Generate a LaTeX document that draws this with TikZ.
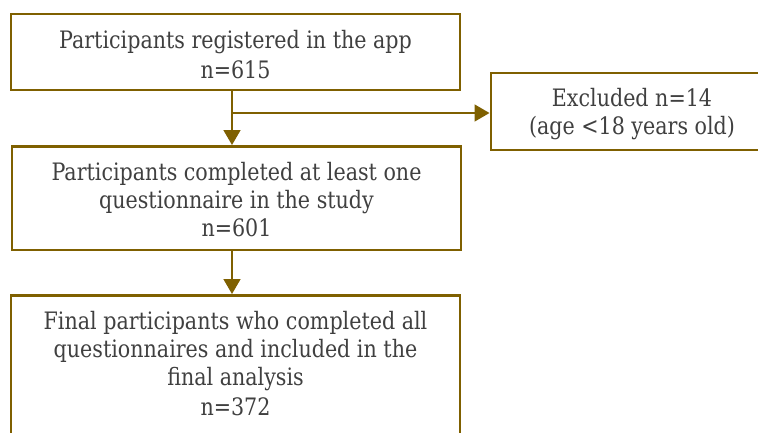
\documentclass[tikz,border=0pt]{standalone}
\usepackage{fontspec}
\setmainfont{DejaVu Serif}[FakeStretch=0.86]
\usetikzlibrary{arrows.meta}
\definecolor{boxline}{HTML}{7F6000}
\definecolor{txt}{HTML}{404040}
\begin{document}
\begin{tikzpicture}[x=1pt,y=-1pt,
  box/.style={draw=boxline, line width=2.8pt, fill=white, inner sep=0pt},
  lbl/.style={text=txt, align=center, inner sep=0pt, font=\fontsize{24}{28}\selectfont},
  conn/.style={draw=boxline, line width=2.8pt, -{Triangle[length=15pt,width=16.5pt]}}]
\clip (0,0) rectangle (758,432);
\node[box, minimum width=449pt, minimum height=76pt] (b1) at (235.5,52) {};
\node[box, minimum width=282pt, minimum height=77pt] (ex) at (632,111.5) {};
\node[box, minimum width=449pt, minimum height=103.5pt] (b3) at (236.5,198.25) {};
\node[box, minimum width=449pt, minimum height=141pt] (b4) at (235.5,366) {};
\node[lbl] (b1t) at ([yshift=-2.5pt]b1.center)
  {Participants registered in the app\\[2pt]n=615};
\node[lbl] (ext) at ([yshift=-3pt]ex.center)
  {Excluded n=14\\(age <18 years old)};
\node[lbl] (b3t) at ([yshift=-1pt]b3.center)
  {Participants completed at least one\\questionnaire in the study\\n=601};
\node[lbl] (b4t) at ([yshift=2.5pt]b4.center)
  {Final participants who completed all\\questionnaires and included in the\\final analysis\\[2pt]n=372};
\coordinate (s1) at ([xshift=-3.5pt]b1.south);
\coordinate (s3) at ([xshift=-4.5pt]b3.south);
\draw[conn] (s1) -- (s1 |- b3.north);
\draw[conn] ([yshift=-1.5pt]s1 |- ex.west) -- ([yshift=-1.5pt]ex.west);
\draw[conn] (s3) -- (s3 |- b4.north);
\end{tikzpicture}
\end{document}
